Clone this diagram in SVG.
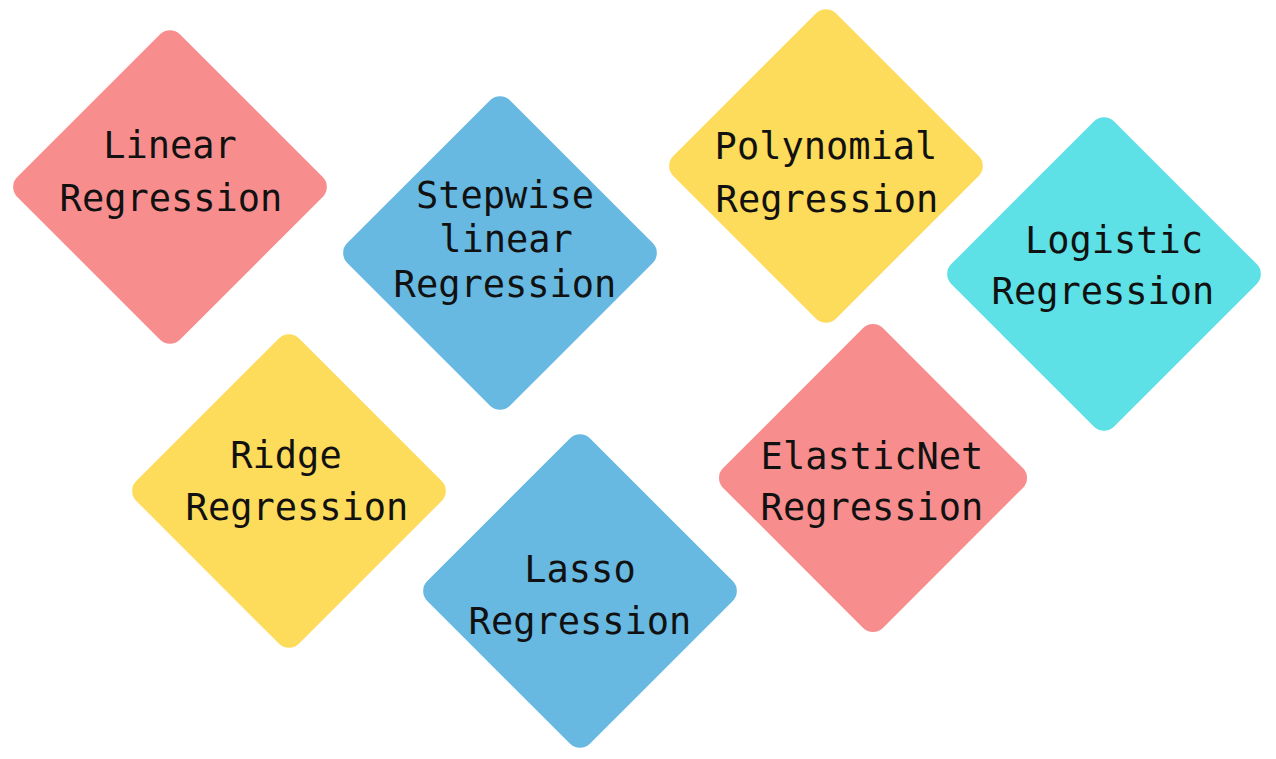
<svg xmlns="http://www.w3.org/2000/svg" width="1276" height="759" viewBox="0 0 1276 759">
<style>
.pink{fill:#F78E8D}
.blue{fill:#67B9E1}
.yellow{fill:#FDDB5B}
.cyan{fill:#5DE0E6}
text{font-family:"DejaVu Sans Mono","Liberation Mono",monospace;font-size:37px;fill:#111;text-anchor:middle}
</style>
<rect width="1276" height="759" fill="#ffffff"/>
<g id="connectors"></g>
<g id="linear">
<rect class="pink" x="-115" y="-115" width="230" height="230" rx="14" transform="translate(170,187) rotate(45)"/>
<text x="170" y="158">Linear</text>
<text x="171" y="211">Regression</text>
</g>
<g id="stepwise">
<rect class="blue" x="-115" y="-115" width="230" height="230" rx="14" transform="translate(500,253) rotate(45)"/>
<text x="505" y="208">Stepwise</text>
<text x="506" y="252">linear</text>
<text x="505" y="297">Regression</text>
</g>
<g id="polynomial">
<rect class="yellow" x="-115" y="-115" width="230" height="230" rx="14" transform="translate(826,166) rotate(45)"/>
<text x="826" y="159">Polynomial</text>
<text x="827" y="212">Regression</text>
</g>
<g id="logistic">
<rect class="cyan" x="-115" y="-115" width="230" height="230" rx="14" transform="translate(1104,274) rotate(45)"/>
<text x="1114" y="253">Logistic</text>
<text x="1103" y="304">Regression</text>
</g>
<g id="ridge">
<rect class="yellow" x="-115" y="-115" width="230" height="230" rx="14" transform="translate(289,491) rotate(45)"/>
<text x="286" y="468">Ridge</text>
<text x="297" y="520">Regression</text>
</g>
<g id="lasso">
<rect class="blue" x="-115" y="-115" width="230" height="230" rx="14" transform="translate(580,591) rotate(45)"/>
<text x="580" y="582">Lasso</text>
<text x="580" y="634">Regression</text>
</g>
<g id="elasticnet">
<rect class="pink" x="-113" y="-113" width="226" height="226" rx="14" transform="translate(873,478) rotate(45)"/>
<text x="872" y="469">ElasticNet</text>
<text x="872" y="520">Regression</text>
</g>
</svg>
